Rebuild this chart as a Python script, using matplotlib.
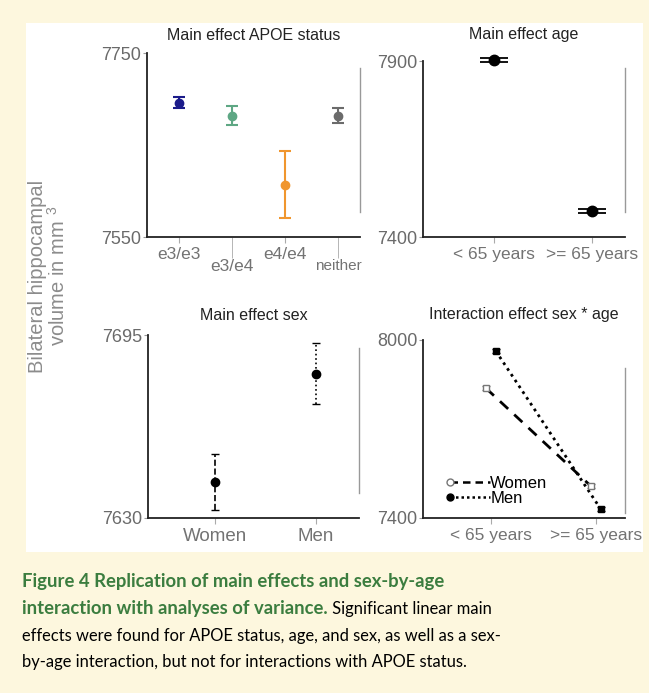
import matplotlib
matplotlib.use("Agg")
import matplotlib.pyplot as plt
from matplotlib.patches import Rectangle
from matplotlib.legend_handler import HandlerLine2D
from matplotlib.lines import Line2D

plt.rcParams['font.family'] = ['Liberation Sans', 'DejaVu Sans']
plt.rcParams['mathtext.default'] = 'regular'

# --- data ---
apoe_groups = ['e3/e3', 'e3/e4', 'e4/e4', 'neither']
apoe_mean = [7696, 7682, 7607, 7682]
apoe_err = [6, 10, 36, 8]
apoe_colors = ['#1b1b8a', '#5ea784', '#f0962e', '#6b6b6b']

age_groups = ['< 65 years', '>= 65 years']
age_mean = [7903, 7474]
age_err = [5, 5]

sex_groups = ['Women', 'Men']
sex_mean = [7642.8, 7681.1]
sex_lo = [7632.9, 7670.5]
sex_hi = [7652.7, 7692.2]

women_age = [7838, 7508]
men_age = [7963, 7430]
women_err = [6, 7]
men_err = [6, 6]

W, H = 649, 693
fig = plt.figure(figsize=(W / 100, H / 100), dpi=100)
fig.patch.set_facecolor('#fdf7de')
fig.add_artist(Rectangle((26 / W, 1 - 552 / H), (643 - 26) / W, (552 - 23) / H,
                         transform=fig.transFigure, facecolor='white', edgecolor='none', zorder=0))


def box(x0, x1, ytop, ybot):
    return [x0 / W, 1 - ybot / H, (x1 - x0) / W, (ybot - ytop) / H]


def style(ax, ylim, title, gline, tpad):
    ax.set_facecolor('none')
    for s in ['top', 'right']:
        ax.spines[s].set_visible(False)
    for s in ['left', 'bottom']:
        ax.spines[s].set_color('#222222')
        ax.spines[s].set_linewidth(1.3)
    ax.set_ylim(*ylim)
    ax.set_yticks(ylim)
    ax.tick_params(axis='y', length=3, color='#999999', labelcolor='#6a6a6a',
                   labelsize=13, pad=1)
    ax.tick_params(axis='x', length=4.5, color='#aaaaaa', labelcolor='#737373',
                   labelsize=12.5, pad=3)
    ax.set_title(title, fontsize=11.5, color='#222222', pad=tpad)
    ax.plot([1, 1], gline, transform=ax.transAxes, color='#999999', lw=1, clip_on=False)


# top-left: APOE
ax1 = fig.add_axes(box(147, 360, 53, 237))
for i in range(len(apoe_groups)):
    ax1.errorbar(i, apoe_mean[i], yerr=apoe_err[i], fmt='o', color=apoe_colors[i],
                 ms=6, capsize=4.5, elinewidth=1.5, capthick=1.5)
ax1.set_xlim(-0.603, 3.416)
style(ax1, (7550, 7750), 'Main effect APOE status', [0.136, 0.918], 9.7)
ax1.set_xticks([0, 2])
ax1.set_xticklabels([apoe_groups[0], apoe_groups[2]])
ax1.set_xticks([1, 3], minor=True)
ax1.set_xticklabels([apoe_groups[1], apoe_groups[3]], minor=True)
ax1.tick_params(axis='x', which='minor', length=15, color='#aaaaaa', labelcolor='#737373',
                labelsize=12.5, pad=1)
ax1.get_xticklabels(minor=True)[1].set_fontsize(11)

# top-right: age
ax2 = fig.add_axes(box(423, 625, 61, 237))
ax2.errorbar(range(2), age_mean, yerr=age_err, fmt='o', color='black', ms=7.5,
             capsize=10, elinewidth=1.3, capthick=1.3, clip_on=False)
ax2.set_xlim(-0.722, 1.336)
style(ax2, (7400, 7900), 'Main effect age', [0.142, 0.96], 15.5)
ax2.set_xticks(range(2))
ax2.set_xticklabels(age_groups)

# bottom-left: sex
ax3 = fig.add_axes(box(148, 359, 335, 518))
styles = ['--', ':']
for i in range(2):
    _, _, bars = ax3.errorbar(i, sex_mean[i], yerr=[[sex_mean[i] - sex_lo[i]], [sex_hi[i] - sex_mean[i]]],
                              fmt='o', color='black', ms=6, capsize=3, elinewidth=1.2, capthick=1)
    bars[0].set_linestyle(styles[i])
ax3.set_xlim(-0.663, 1.426)
style(ax3, (7630, 7695), 'Main effect sex', [0.137, 0.929], 11)
ax3.set_xticks(range(2))
ax3.set_xticklabels(sex_groups, fontsize=13.5)

# bottom-right: interaction
ax4 = fig.add_axes(box(423, 625, 340, 518))
xw = [-0.05, 0.95]
xm = [0.045, 1.045]
ax4.plot(xw, women_age, ls=(0, (4, 3)), color='black', lw=2)
ax4.plot(xm, men_age, ls=(0, (1, 1.5)), color='black', lw=2)
ax4.errorbar(xw, women_age, yerr=women_err, fmt='s', ms=5, mfc='white', mec='#777777',
             ecolor='#777777', capsize=3, elinewidth=1, ls='none')
ax4.errorbar(xm, men_age, yerr=men_err, fmt='s', ms=5, color='black', capsize=3,
             elinewidth=1, ls='none')
ax4.set_xlim(-0.648, 1.276)
style(ax4, (7400, 8000), 'Interaction effect sex * age', [0.028, 0.843], 14.8)
ax4.set_xticks(range(2))
ax4.set_xticklabels(age_groups)
h_w = Line2D([], [], ls=(0, (3, 2)), color='black', lw=1.8, marker='o', ms=5,
             mfc='white', mec='#777777')
h_m = Line2D([], [], ls=(0, (1, 1.2)), color='black', lw=1.8, marker='o', ms=5)


class MarkerFirst(HandlerLine2D):
    def create_artists(self, *args, **kwargs):
        arts = super().create_artists(*args, **kwargs)
        arts[0].set_markevery([0])
        return arts


ax4.legend([h_w, h_m], ['Women', 'Men'], loc='lower left', bbox_to_anchor=(0.09, 0.022),
           frameon=False, fontsize=12, handlelength=2.4, handletextpad=0.05,
           labelspacing=0.0, borderpad=0, numpoints=1,
           handler_map={Line2D: MarkerFirst()})

fig.text(48 / W, 1 - 276 / H, 'Bilateral hippocampal\nvolume in mm $^3$', rotation=90,
         ha='center', va='center', fontsize=14.5, color='#8c8c8c', linespacing=1.0)

# caption
green = '#3b7d3f'
cfont = ['Lato', 'DejaVu Sans']
bsize = 13.3
rsize = 11.9
x0 = 22 / W
fig.text(x0, 1 - 587 / H, 'Figure 4 Replication of main effects and sex-by-age',
         color=green, fontweight='bold', fontsize=bsize, family=cfont, va='baseline')
t2 = fig.text(x0, 1 - 614 / H, 'interaction with analyses of variance.',
              color=green, fontweight='bold', fontsize=bsize, family=cfont, va='baseline')
ax4.annotate(' Significant linear main', xy=(1, 0), xycoords=t2, ha='left', va='bottom',
             color='black', fontsize=rsize, family=cfont, annotation_clip=False)
fig.text(x0, 1 - 641 / H, 'effects were found for APOE status, age, and sex, as well as a sex-',
         color='black', fontsize=rsize, family=cfont, va='baseline')
fig.text(x0, 1 - 667 / H, 'by-age interaction, but not for interactions with APOE status.',
         color='black', fontsize=rsize, family=cfont, va='baseline')

fig.savefig('out.png', dpi=100)
